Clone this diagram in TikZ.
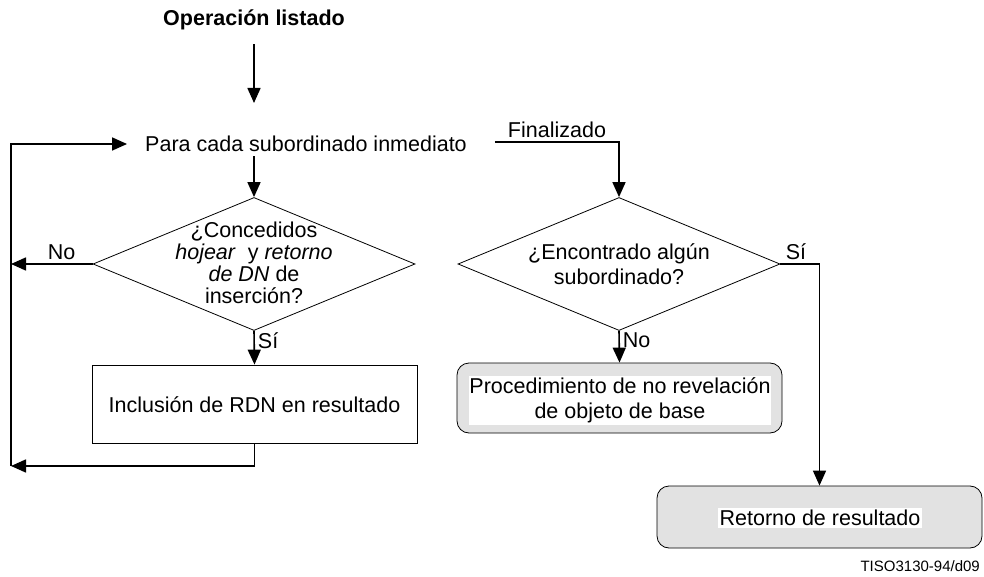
\documentclass[tikz,border=0pt]{standalone}
\usepackage{fontspec}
\setmainfont{Liberation Sans}
\usetikzlibrary{arrows.meta,shapes.geometric,calc}
\definecolor{boxgray}{HTML}{E2E2E2}
\begin{document}
\begin{tikzpicture}[x=1pt,y=-1pt,
  every node/.style={font=\fontsize{21.5}{22}\selectfont},
  conn/.style={line width=1.6pt},
  arr/.style={conn,-{Triangle[length=15pt,width=13pt]}},
  dia/.style={draw,line width=0.8pt,diamond,inner sep=0pt,minimum width=322pt,minimum height=133pt},
  rbox/.style={draw,line width=0.8pt,rectangle,minimum width=325pt,minimum height=78pt,inner sep=0pt},
  gbox/.style={draw,line width=0.8pt,rectangle,rounded corners=12pt,fill=boxgray,minimum width=325pt,inner sep=0pt},
  wtext/.style={fill=white,inner sep=2pt,align=center},
  lbl/.style={inner sep=3pt}
]
\useasboundingbox (0,0) rectangle (984,577);

% nodes
\node[font=\bfseries\fontsize{21.5}{22}\selectfont,inner sep=2pt] (title) at (254,20) {Operación listado};
\node[inner xsep=18pt,inner ysep=4pt] (para) at (306,144) {Para cada subordinado inmediato};
\node[dia] (d1) at (254,264) {};
\node[align=center,font=\fontsize{21.5}{22}\selectfont] (d1t) at (254,263)
  {¿Concedidos\\\textit{hojear}\ \ y \textit{retorno}\\\textit{de DN} de\\inserción?};
\node[rbox] (r1) at (254.5,404) {};
\node (r1t) at (254.5,405) {Inclusión de RDN en resultado};
\node[dia] (d2) at (619,264) {};
\node[align=center] (d2t) at (619,264) {¿Encontrado algún\\[3pt]subordinado?};
\node[gbox,minimum height=70pt] (p2) at (619.5,398) {};
\node[wtext,minimum width=298pt,minimum height=49pt,inner sep=0pt,font=\fontsize{21.5}{25}\selectfont] (p2t) at (620,400)
  {Procedimiento de no revelación\\de objeto de base};
\node[gbox,minimum height=62pt] (r3) at (819.5,517) {};
\node[wtext] (r3t) at (820,518) {Retorno de resultado};
\node[anchor=east,font=\fontsize{15}{16}\selectfont,inner sep=0pt] (code) at (980,566) {TISO3130-94/d09};

% coordinates
\coordinate (a1) at (254,103);
\coordinate (lt) at (11,144);
\coordinate (lb) at (11,466);
\coordinate (fs) at ($(para.east)+(10,-2)$);

% connectors
\draw[arr] (title.south) ++(0,12) -- (a1);
\draw[arr] (para.south -| d1.north) -- (d1.north);
\draw[arr] (d1.west) -- (d1.west -| lb) node[lbl,above,pos=0.38] {No};
\draw[arr] (d1.south) -- (r1.north) node[lbl,right,pos=0.3] {Sí};
\draw[arr] (r1.south) |- (lb);
\draw[arr] (lb) -- (lt) -- (para.west);
\draw[arr] (fs) -| (d2.north) node[lbl,above,pos=0.25] {Finalizado};
\draw[arr] (d2.south) -- (p2.north) node[lbl,right,pos=0.3] {No};
\draw[arr] (d2.east) -| (r3.north) node[lbl,above,pos=0.2] {Sí};
\end{tikzpicture}
\end{document}
